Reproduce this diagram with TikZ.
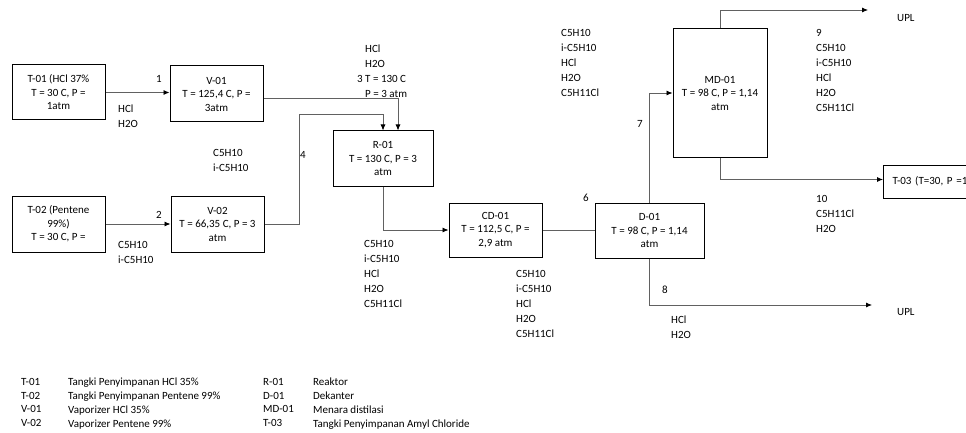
\documentclass[tikz,border=0pt]{standalone}
\usepackage{fontspec}
\setmainfont{Carlito}
\usetikzlibrary{arrows.meta}
\begin{document}
\begin{tikzpicture}[x=1pt,y=-1pt,
  every node/.style={font=\fontsize{11}{13.5}\selectfont, text=black},
  box/.style={draw=black, line width=1pt, align=center, inner sep=0pt},
  lst/.style={anchor=north west, align=left, inner sep=0pt, font=\fontsize{11}{15}\selectfont},
  leg/.style={anchor=north west, align=left, inner sep=0pt, font=\fontsize{11}{13.8}\selectfont},
  num/.style={inner sep=0pt},
  con/.style={draw=black!62, line width=0.8pt},
  arr/.style={con, -{Latex[length=6pt,width=5pt,color=black]}}
]
\useasboundingbox (0,0) rectangle (966,433);

% equipment boxes
\node[box, minimum width=93pt, minimum height=55pt] (t01) at (58.5,92.5) {T-01 (HCl 37\%\\T = 30 C, P =\\1atm};
\node[box, minimum width=93pt, minimum height=56pt] (v01) at (216.5,94) {V-01\\T = 125,4 C, P =\\3atm};
\node[box, minimum width=93pt, minimum height=56pt] (t02) at (58.5,224) {T-02 (Pentene\\99\%)\\T = 30 C, P =};
\node[box, minimum width=93pt, minimum height=56pt] (v02) at (217.5,224) {V-02\\T = 66,35 C, P = 3\\atm};
\node[box, minimum width=100pt, minimum height=55pt] (r01) at (383,158.5) {R-01\\T = 130 C, P = 3\\atm};
\node[box, minimum width=93pt, minimum height=54pt] (cd01) at (495.5,230) {CD-01\\T = 112,5 C, P =\\2,9 atm};
\node[box, minimum width=109pt, minimum height=55pt] (d01) at (649.5,230.5) {D-01\\T = 98 C, P = 1,14\\atm};
\node[box, minimum width=94pt, minimum height=128pt] (md01) at (720,93) {MD-01\\T = 98 C, P = 1,14\\atm};
\node[box, anchor=west, text width=92pt, align=left, inner xsep=9pt, minimum height=33pt] (t03) at (883,181.5) {T-03 (T=30, P =1};

% free ends
\coordinate (k4) at (299,114);
\coordinate (upl1) at (868,10);
\coordinate (upl2) at (872,305);

% connectors
\draw[arr] (t01.east) -- (t01.east -| v01.west);
\draw[arr] (t02.east) -- (v02.west);
\draw[arr] ([yshift=-4pt]v01.east) -| ([xshift=15pt]r01.north);
\draw[arr] (v02.east) -| (k4) -| (r01.north);
\draw[arr] (r01.south) |- (cd01.west);
\draw[con] (cd01.east) -- (cd01.east -| d01.west);
\draw[arr] (d01.north) |- (md01.west);
\draw[arr] (d01.south) |- (upl2);
\draw[arr] (md01.north) |- (upl1);
\draw[arr] (md01.south) |- ([yshift=2pt]t03.west);

% stream numbers
\node[num] (n1) at (159,79) {1};
\node[num] (n2) at (159,215) {2};
\node[num] (n3) at (360,79) {3};
\node[num] (n4) at (303,155) {4};
\node[num] (n6) at (586,198) {6};
\node[num] (n7) at (640,124) {7};
\node[num] (n8) at (665,290) {8};

% stream compositions
\node[lst] (s1) at (118,105) {HCl\\H2O};
\node[lst] (s2) at (118,241) {C5H10\\i-C5H10};
\node[lst] (s3) at (365,45) {HCl\\H2O\\T = 130 C\\P = 3 atm};
\node[lst] (s4) at (213,149) {C5H10\\i-C5H10};
\node[lst] (s5) at (364,240) {C5H10\\i-C5H10\\HCl\\H2O\\C5H11Cl};
\node[lst] (s6) at (516,270) {C5H10\\i-C5H10\\HCl\\H2O\\C5H11Cl};
\node[lst] (s7) at (561,29) {C5H10\\i-C5H10\\HCl\\H2O\\C5H11Cl};
\node[lst] (s9) at (816,29) {9\\C5H10\\i-C5H10\\HCl\\H2O\\C5H11Cl};
\node[lst] (s10) at (816,195) {10\\C5H11Cl\\H2O};
\node[lst] (s8) at (671,316) {HCl\\H2O};
\node[lst] (u1) at (897,14) {UPL};
\node[lst] (u2) at (897,308) {UPL};

% legend
\node[leg] (lg1) at (21,378) {T-01\\T-02\\V-01\\V-02};
\node[leg] (lg2) at (68,378) {Tangki Penyimpanan HCl 35\%\\Tangki Penyimpanan Pentene 99\%\\Vaporizer HCl 35\%\\Vaporizer Pentene 99\%};
\node[leg] (lg3) at (263,378) {R-01\\D-01\\MD-01\\T-03};
\node[leg] (lg4) at (313,378) {Reaktor\\Dekanter\\Menara distilasi\\Tangki Penyimpanan Amyl Chloride};
\end{tikzpicture}
\end{document}
